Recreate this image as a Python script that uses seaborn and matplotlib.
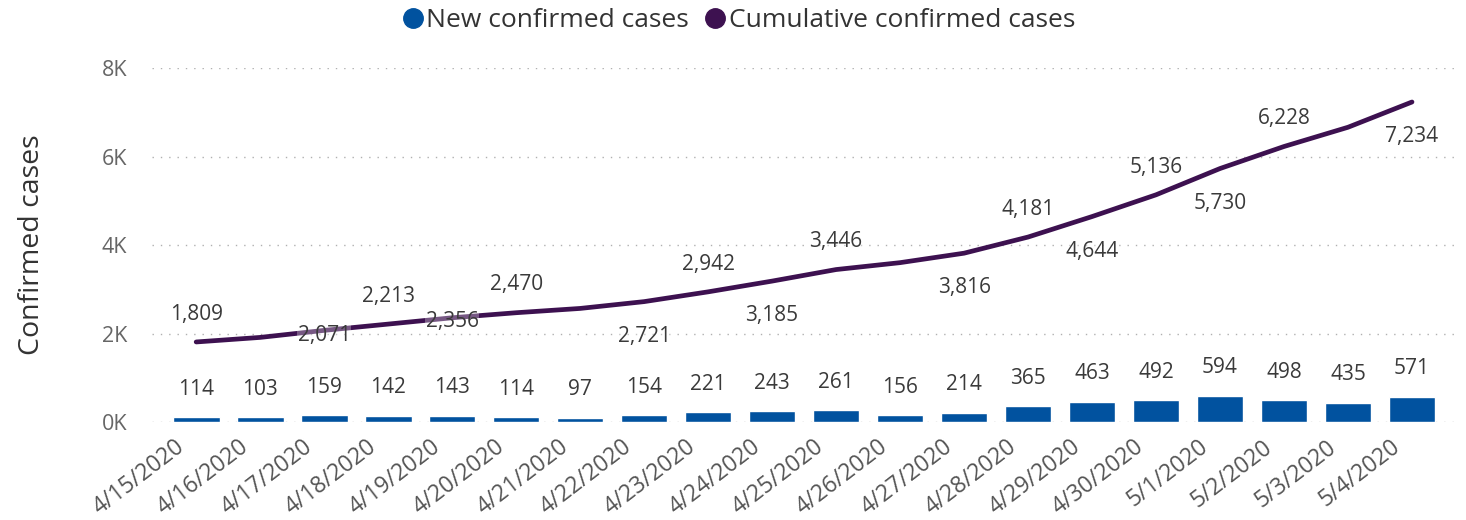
import numpy as np
import pandas as pd
import matplotlib
matplotlib.use('Agg')
import matplotlib.pyplot as plt
import matplotlib.transforms as mtransforms
import seaborn as sns
from matplotlib.lines import Line2D

##################################################################
dates = ['4/15/2020', '4/16/2020', '4/17/2020', '4/18/2020', '4/19/2020',
         '4/20/2020', '4/21/2020', '4/22/2020', '4/23/2020', '4/24/2020',
         '4/25/2020', '4/26/2020', '4/27/2020', '4/28/2020', '4/29/2020',
         '4/30/2020', '5/1/2020', '5/2/2020', '5/3/2020', '5/4/2020']
new_cases = [114, 103, 159, 142, 143, 114, 97, 154, 221, 243,
             261, 156, 214, 365, 463, 492, 594, 498, 435, 571]
cumulative = [1809, 1912, 2071, 2213, 2356, 2470, 2567, 2721, 2942, 3185,
              3446, 3602, 3816, 4181, 4644, 5136, 5730, 6228, 6663, 7234]
# which cumulative labels are shown, and on which side of the line
cum_label_side = ['up', None, 'down', 'up', 'down', 'up', None, 'down', 'up', 'down',
                  'up', None, 'down', 'up', 'down', 'up', 'down', 'up', None, 'down']
yticks = [0, 2000, 4000, 6000, 8000]
ytick_labels = ['0K', '2K', '4K', '6K', '8K']
##################################################################

bar_color = '#01529f'
line_color = '#3d1150'
label_color = '#3a3a3a'
font = ['Open Sans', 'DejaVu Sans']

sns.set_style('white')
plt.rcParams['font.family'] = font

df = pd.DataFrame({'date': dates, 'new': new_cases, 'cum': cumulative,
                   'idx': np.arange(len(dates))})

fig = plt.figure(figsize=[14.66, 5.2], dpi=100)
ax = fig.add_axes([0.1037, 0.1885, 0.8922, 0.6805])

sns.barplot(x='idx', y='new', data=df, ax=ax, color=bar_color, width=0.73,
            saturation=1, zorder=2)
sns.lineplot(x='idx', y='cum', data=df, ax=ax, color=line_color, linewidth=3.4,
             zorder=3, solid_capstyle='round')

# data labels on the bars
for i, v in enumerate(new_cases):
    ax.annotate('%d' % v, (i, v), xytext=(0, 20), textcoords='offset points',
                ha='center', va='center', fontsize=15, color=label_color, zorder=5)

# data labels on the line
special = {2: -4, 4: -3}  # labels pushed up by neighbouring bar labels
for i, (v, side) in enumerate(zip(cumulative, cum_label_side)):
    if side is None:
        continue
    if side == 'up':
        dy = 20
    else:
        dy = special.get(i, -25)
    ax.annotate('{:,}'.format(v), (i, v), xytext=(0, dy), textcoords='offset points',
                ha='center', va='center', fontsize=15, color=label_color, zorder=5,
                bbox=dict(facecolor='white', alpha=0.3, edgecolor='none', pad=0.5))

ax.set_xlim(-0.69, 19.75)
ax.set_ylim(0, 8000)
ax.set_yticks(yticks, ytick_labels)
ax.set_xticks(np.arange(len(dates)))
ax.set_xticklabels(dates, rotation=37.5, ha='right', va='top', rotation_mode='anchor')
ax.tick_params(axis='y', length=0, pad=18, labelsize=15.5, labelcolor='#666666')
ax.tick_params(axis='x', length=0, pad=8, labelsize=16.5, labelcolor='#555555')
shift = mtransforms.ScaledTranslation(-22 / 100, -2 / 100, fig.dpi_scale_trans)
for lab in ax.get_xticklabels():
    lab.set_transform(lab.get_transform() + shift)
ax.grid(axis='y', linestyle=(0, (1, 5)), color='#b0b0b0', linewidth=1)
ax.set_axisbelow(True)
for s in ax.spines.values():
    s.set_visible(False)
ax.set_xlabel('')
ax.set_ylabel('Confirmed cases', fontsize=20.5, color='#333333', labelpad=40)

handles = [Line2D([], [], marker='o', linestyle='none', markersize=14, color=bar_color),
           Line2D([], [], marker='o', linestyle='none', markersize=14, color=line_color)]
fig.legend(handles, ['New confirmed cases', 'Cumulative confirmed cases'],
           loc='center', bbox_to_anchor=(0.503, 0.961), ncol=2, frameon=False,
           fontsize=19, handletextpad=0.0, columnspacing=0.5, handlelength=1.0,
           labelcolor='#333333')

plt.savefig('out.png', dpi=100)
